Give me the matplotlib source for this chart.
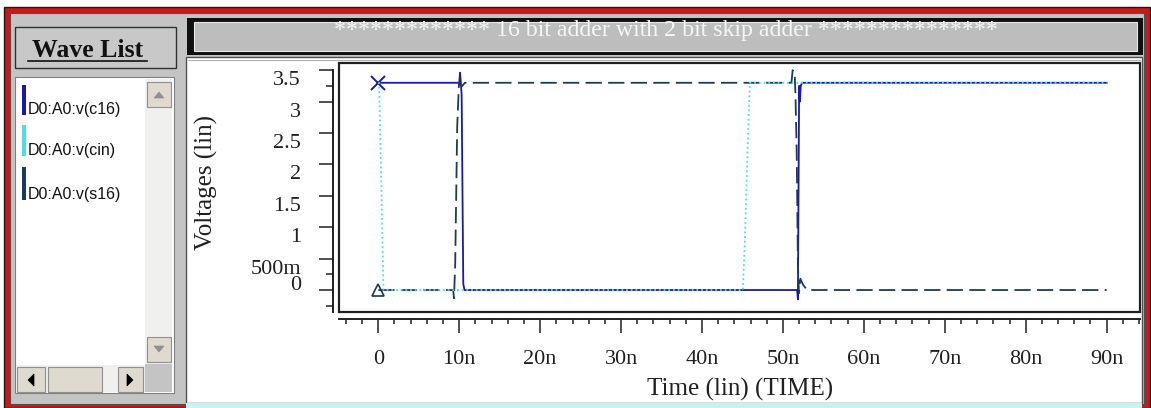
import matplotlib
matplotlib.use("Agg")
import matplotlib.pyplot as plt
from matplotlib.patches import Rectangle, Polygon
from matplotlib.ticker import FixedLocator, NullFormatter

W, H = 1151, 408

# waveforms (time in ns, volts)
c16_t = [0, 10.0, 10.1, 10.2, 10.3, 10.5, 10.65, 51.75, 51.85, 52.0, 52.1, 52.2, 52.35, 90]
c16_v = [3.3, 3.3, 3.46, 3.3, 3.1, 0.1, 0.0, 0.0, -0.15, 3.25, 3.0, 3.25, 3.3, 3.3]

cin_t = [0, 0.1, 0.35, 0.64, 45.05, 45.3, 45.55, 45.9, 90]
cin_v = [3.3, 3.3, 1.8, 0, 0, 0.8, 1.9, 3.3, 3.3]

s16_t = [0, 9.25, 9.35, 9.5, 9.75, 9.97, 10.3, 10.7, 51.05, 51.2, 51.45, 51.55,
         51.7, 51.85, 51.98, 52.15, 52.5, 53.0, 90]
s16_v = [0, 0, -0.13, 0.4, 2.6, 3.3, 3.24, 3.3, 3.3, 3.5, 3.45, 3.1,
         2.2, 0.4, -0.05, 0.18, 0.08, 0.0, 0]

names = ["D0:A0:v(c16)", "D0:A0:v(cin)", "D0:A0:v(s16)"]
colors = ["#1a1aa6", "#48e0e0", "#1c3b58"]
title = "************* 16 bit adder with 2 bit skip adder ***************"

x_ticks = [0, 10, 20, 30, 40, 50, 60, 70, 80, 90]
x_labels = ["0", "10n", "20n", "30n", "40n", "50n", "60n", "70n", "80n", "90n"]
y_ticks = [0, 0.5, 1, 1.5, 2, 2.5, 3, 3.5]
y_labels = ["0", "500m", "1", "1.5", "2", "2.5", "3", "3.5"]

SERIF = "Liberation Serif"
SANS = "Liberation Sans"
INK = "#202020"

fig = plt.figure(figsize=(W / 100, H / 100), dpi=100)
fig.patch.set_facecolor("white")

# window chrome in pixel coordinates
bg = fig.add_axes([0, 0, 1, 1])
bg.set_xlim(0, W)
bg.set_ylim(H, 0)
bg.axis("off")


def box(x0, y0, x1, y1, fc, ec="none", lw=0.0, z=1):
    bg.add_patch(Rectangle((x0, y0), x1 - x0, y1 - y0, fc=fc, ec=ec, lw=lw, zorder=z))


def tri(pts, c, z=3):
    bg.add_patch(Polygon(pts, closed=True, fc=c, ec=c, lw=0.5, zorder=z))


box(4, 7, 1150, 408, "#c81818", "#301010", 1.0)
box(10, 13, 1144, 404, "#c4c4c4", "#505050", 0.8)

# title bar
box(187, 18, 1143, 55, "#101010", z=2)
box(194, 22, 1137, 51, "#bdbdbd", "#e8e8e8", 0.8, z=2)
bg.text(666, 36, title, ha="center", va="baseline", color="#f6f6f6",
        fontsize=17.2, family=SERIF, zorder=4)

# plot panel
box(186, 57, 1142, 403, "white", "#505050", 1.0, z=2)
bg.plot([188, 1140], [60, 60], color="#b0b0b0", lw=0.8, zorder=3)
box(186, 403, 1142, 408, "#c6f2f2", z=2)

# wave list panel
box(15, 27, 176, 68, "#c8c8c8", "#303030", 1.0, z=2)
bg.text(87.5, 57, "Wave List", ha="center", va="baseline", fontsize=18.5,
        family=SERIF, weight="bold", color="#111111", zorder=4)
bg.plot([28, 147], [61, 61], color="#111111", lw=1.2, zorder=4)

box(15, 77, 174, 393, "white", "#808080", 0.8, z=2)
box(145, 79, 172, 364, "#f0f0ee", z=3)
box(147, 82, 171, 107, "#dedad0", "#909090", 0.8, z=3)
tri([(154, 98), (164, 98), (159, 92)], "#909090", z=4)
box(147, 337, 171, 362, "#dedad0", "#909090", 0.8, z=3)
tri([(154, 346), (164, 346), (159, 352)], "#909090", z=4)
box(16, 365, 145, 392, "#f0f0ee", z=3)
box(17, 367, 45, 392, "#dedad0", "#909090", 0.8, z=3)
tri([(34, 374), (34, 386), (28, 380)], "#000000", z=4)
box(48, 367, 102, 392, "#dedad0", "#909090", 0.8, z=3)
box(118, 367, 143, 392, "#dedad0", "#909090", 0.8, z=3)
tri([(127, 374), (127, 386), (133, 380)], "#000000", z=4)
box(145, 364, 172, 392, "#c4c4c4", z=3)

bar_tops = [85, 125, 167]
bar_bots = [115, 156, 200]
for name, col, top, bot in zip(names, colors, bar_tops, bar_bots):
    box(22, top, 26, bot, col, z=4)
    bg.text(28, bot - 1, name, ha="left", va="baseline", fontsize=11.5,
            family=SANS, color="#111111", zorder=4)

bg.text(740, 396, "Time (lin) (TIME)", ha="center", va="baseline",
        fontsize=18, family=SERIF, color=INK, zorder=4)
bg.text(206, 183, "Voltages (lin)", ha="center", va="center", rotation=90,
        fontsize=18, family=SERIF, color=INK, zorder=4)

# waveform axes
ax = fig.add_axes([339 / W, 1 - 312 / H, 801 / W, 249 / H])
ax.set_zorder(5)
ax.patch.set_alpha(0)
ax.set_xlim(-4.856, 94.12)
ax.set_ylim(-0.350, 3.615)

ax.plot(c16_t, c16_v, color=colors[0], lw=1.3, marker="x", markevery=[0],
        ms=10, mew=1.4, zorder=2)
ax.plot(s16_t, s16_v, color=colors[2], lw=1.3, dashes=(9, 3.5), marker="^",
        markevery=[0], ms=9, mfc="none", mec=colors[2], mew=1.2, zorder=3)
ax.plot(cin_t, cin_v, color=colors[1], lw=1.3, dashes=(1, 1.6), zorder=4)

ax.add_patch(Rectangle((0, 0), 1, 1, transform=ax.transAxes, fill=False,
                       ec=INK, lw=1.6, clip_on=False, zorder=6))

for s in ["top", "right"]:
    ax.spines[s].set_visible(False)
ax.spines["left"].set_position(("outward", 4.3))
ax.spines["bottom"].set_position(("outward", 5.0))
ax.spines["left"].set_bounds(-0.350, 3.5)
for s in ["left", "bottom"]:
    ax.spines[s].set_color(INK)
    ax.spines[s].set_linewidth(1.4)

ax.xaxis.set_major_locator(FixedLocator(x_ticks))
ax.xaxis.set_minor_locator(FixedLocator([t for t in range(-4, 95, 2) if t % 10]))
ax.yaxis.set_major_locator(FixedLocator(y_ticks))
ax.yaxis.set_minor_locator(FixedLocator([-0.25, 0.25, 3.25]))
for a in [ax.xaxis, ax.yaxis]:
    a.set_major_formatter(NullFormatter())
    a.set_minor_formatter(NullFormatter())
ax.tick_params(which="major", direction="out", length=10, width=1.1, color=INK)
ax.tick_params(axis="y", which="minor", direction="out", length=5, width=1.1, color=INK)
ax.tick_params(axis="x", which="minor", direction="out", length=3.6, width=1.1, color=INK)

for t, lab in zip(x_ticks, x_labels):
    ax.annotate(lab, xy=(t, 0), xycoords=("data", "axes fraction"),
                xytext=(0, -37.4), textcoords="offset points", ha="center",
                va="baseline", fontsize=16, family=SERIF, color=INK,
                annotation_clip=False)

for v, lab in zip(y_ticks, y_labels):
    dy = 0 if v == 0 else -10.8
    ax.annotate(lab, xy=(0, v), xycoords=("axes fraction", "data"),
                xytext=(-27.4, dy), textcoords="offset points", ha="right",
                va="baseline", fontsize=16, family=SERIF, color=INK,
                annotation_clip=False)

fig.savefig("out.png", dpi=100)
